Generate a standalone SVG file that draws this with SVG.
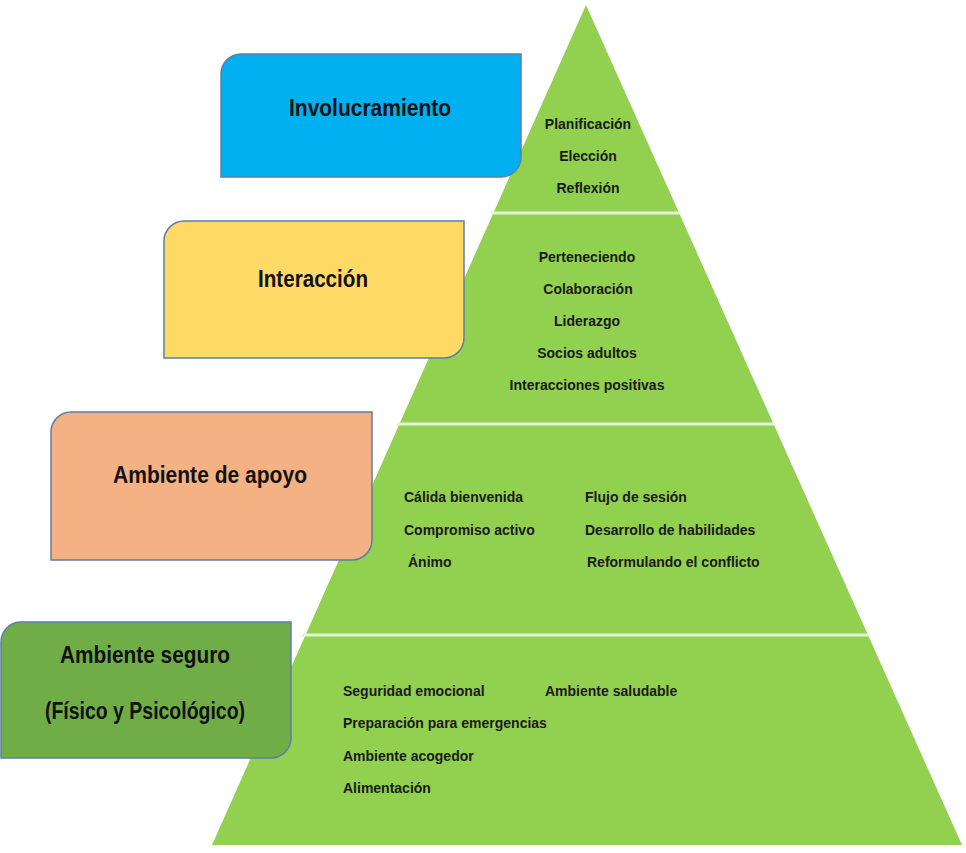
<svg xmlns="http://www.w3.org/2000/svg" width="966" height="853" viewBox="0 0 966 853">
<style>
.box{stroke:#5b7fa8;stroke-width:1.5}
.title{font-family:"Liberation Sans",Arial,sans-serif;font-weight:bold;font-size:23px;fill:#111;text-anchor:middle}
.item{font-family:"Liberation Sans",Arial,sans-serif;font-weight:bold;font-size:14px;fill:#1a1a1a}
.c{text-anchor:middle}
.div{stroke:#e6f4d6;stroke-width:3}
</style>
<rect width="966" height="853" fill="#ffffff"/>
<g id="pyramid">
<polygon points="586,5 962,845 212,845" fill="#92D050"/>
</g>
<g id="connectors">
<line class="div" x1="491" y1="213" x2="681" y2="213"/>
<line class="div" x1="397" y1="424" x2="775" y2="424"/>
<line class="div" x1="302" y1="635" x2="869" y2="635"/>
</g>
<g id="level1">
<path class="box" fill="#00B0F0" d="M241,54 H521 V157 A20,20 0 0 1 501,177 H221 V74 A20,20 0 0 1 241,54 Z"/>
<text class="title" x="370" y="116" textLength="162" lengthAdjust="spacingAndGlyphs">Involucramiento</text>
<text class="item c" x="588" y="129">Planificación</text>
<text class="item c" x="588" y="161">Elección</text>
<text class="item c" x="588" y="193">Reflexión</text>
</g>
<g id="level2">
<path class="box" fill="#FFD966" d="M184,221 H464 V338 A20,20 0 0 1 444,358 H164 V241 A20,20 0 0 1 184,221 Z"/>
<text class="title" x="313" y="287" textLength="110" lengthAdjust="spacingAndGlyphs">Interacción</text>
<text class="item c" x="587" y="262">Perteneciendo</text>
<text class="item c" x="588" y="294">Colaboración</text>
<text class="item c" x="587" y="326">Liderazgo</text>
<text class="item c" x="587" y="358">Socios adultos</text>
<text class="item c" x="587" y="390">Interacciones positivas</text>
</g>
<g id="level3">
<path class="box" fill="#F4B183" d="M71,412 H372 V540 A20,20 0 0 1 352,560 H51 V432 A20,20 0 0 1 71,412 Z"/>
<text class="title" x="210" y="483" textLength="194" lengthAdjust="spacingAndGlyphs">Ambiente de apoyo</text>
<text class="item" x="404" y="502">Cálida bienvenida</text>
<text class="item" x="404" y="535">Compromiso activo</text>
<text class="item" x="408" y="567">Ánimo</text>
<text class="item" x="585" y="502">Flujo de sesión</text>
<text class="item" x="585" y="535">Desarrollo de habilidades</text>
<text class="item" x="587" y="567">Reformulando el conflicto</text>
</g>
<g id="level4">
<path class="box" fill="#70AD47" d="M20,622 H291 V738 A20,20 0 0 1 271,758 H1 V642 A20,20 0 0 1 20,622 Z"/>
<text class="title" x="145" y="663" textLength="170" lengthAdjust="spacingAndGlyphs">Ambiente seguro</text>
<text class="title" x="145" y="719" textLength="200" lengthAdjust="spacingAndGlyphs">(Físico y Psicológico)</text>
<text class="item" x="343" y="696">Seguridad emocional</text>
<text class="item" x="545" y="696">Ambiente saludable</text>
<text class="item" x="343" y="728">Preparación para emergencias</text>
<text class="item" x="343" y="761">Ambiente acogedor</text>
<text class="item" x="343" y="793">Alimentación</text>
</g>
</svg>
